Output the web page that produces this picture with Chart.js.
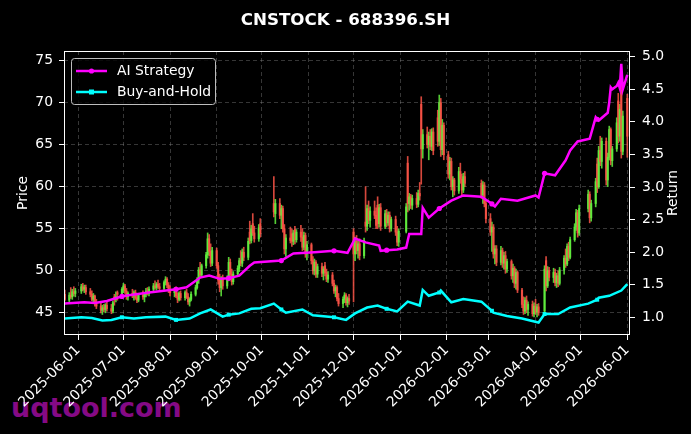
<!DOCTYPE html>
<html>
<head>
<meta charset="utf-8">
<title>CNSTOCK - 688396.SH</title>
<script src="https://cdn.jsdelivr.net/npm/chart.js@4.4.1/dist/chart.umd.min.js"></script>
<style>
  html, body { margin: 0; padding: 0; background: #000; }
  #wrap { position: relative; width: 691px; height: 434px; overflow: hidden; background: #000; }
  #title { position: absolute; left: 0; top: 9px; width: 691px; text-align: center; color: #fff;
           font: bold 16.7px "DejaVu Sans"; z-index: 2; }
  #mark { position: absolute; left: 11px; top: 392px; color: #850a85;
          font: bold 27px "DejaVu Sans"; z-index: 0; }
  canvas { position: absolute; left: 0; top: 0; z-index: 1; }
</style>
</head>
<body>
<div id="wrap">
  <div id="mark">uqtool.com</div>
  <canvas id="chart" width="691" height="434"></canvas>
  <div id="title">CNSTOCK - 688396.SH</div>
</div>
<script>
// trading calendar
const startDate = "2025-05-23";
const endDate = "2026-06-01";
const holidays = [
  "2025-06-02", "2025-10-01", "2025-10-02", "2025-10-03", "2025-10-06", "2025-10-07", "2025-10-08",
  "2026-01-01", "2026-01-02", "2026-02-16", "2026-02-17", "2026-02-18", "2026-02-19", "2026-02-20",
  "2026-02-23", "2026-04-06", "2026-05-01", "2026-05-04", "2026-05-05",
];

// daily candles, one line per week
const opens = [
  47.2, 46.5, 47.1, 46.9, 47.5, 47.3,
  47.6, 48.1, 47.8, 48.0,
  47.5, 47.2, 46.6, 47.0, 46.1,
  45.8, 45.3, 45.6, 45.4, 45.9,
  45.5, 45.2, 46.9, 46.6, 47.4,
  47.2, 47.8, 48.2, 47.6, 46.9,
  47.3, 47.0, 47.4, 46.8, 46.5,
  47.1, 46.9, 47.2, 47.6, 47.3,
  47.8, 48.2, 48.0, 48.4, 48.1,
  47.9, 48.6, 49.0, 48.3, 47.7,
  47.4, 47.7, 47.0, 46.6, 47.3,
  46.8, 47.4, 46.9, 46.3, 46.6,
  47.2, 48.0, 48.9, 50.1, 49.5,
  50.6, 51.9, 53.8, 52.3, 50.9,
  52.4, 50.6, 48.9, 48.0, 49.0,
  48.2, 49.1, 51.0, 49.6, 48.7,
  49.6, 50.3, 51.2, 50.9, 52.2,
  51.6, 54.6, 53.6, 55.6, 54.5,
  53.8, 55.6, 58.0, 56.8,
  58.0, 56.6, 57.4, 55.0, 52.6,
  53.9, 54.4, 53.5, 54.9, 53.7,
  54.6, 54.0, 52.8, 54.2, 52.0,
  53.1, 51.2, 50.0, 51.0, 49.6,
  50.5, 49.7, 50.6, 49.8, 49.0,
  49.5, 48.5, 47.6, 48.0, 46.7,
  46.1, 46.6, 47.1, 46.2, 46.7,
  54.6, 52.0, 53.5, 52.4, 53.2,
  51.8, 55.8, 55.3, 57.4, 56.0,
  57.1, 56.6, 57.8, 55.6, 57.5,
  55.3, 56.8, 55.7, 56.6, 55.0,
  56.1, 54.6, 53.4,
  54.7, 62.8, 58.0, 58.8, 57.8,
  58.6, 57.9, 59.2, 69.8, 64.5,
  66.2, 65.0, 66.0, 64.8, 66.5,
  68.2, 65.4, 70.0, 64.4, 67.3,
  63.8, 61.5, 63.0, 60.0, 60.8,
  59.5, 61.8, 60.9, 59.6, 61.2,
  60.4, 59.0, 60.2, 58.0,
  56.2, 54.6, 55.2, 52.0, 52.6,
  51.0, 52.4, 50.9, 51.8, 50.2,
  51.1, 49.4, 50.3, 48.5, 49.8,
  47.7, 46.0, 45.2, 46.5, 45.4,
  46.0, 44.9, 45.8, 45.1, 45.7,
  45.2, 51.2, 48.2, 50.0,
  49.2, 49.8, 48.6, 49.4, 48.5,
  50.1, 51.5, 50.8, 52.9, 51.6,
  53.7, 55.2, 56.9, 54.5,
  57.4, 59.1, 56.3,
  58.0, 62.7, 60.0, 64.3, 63.0,
  65.4, 60.8, 63.5, 66.8, 63.1,
  64.5, 70.2, 66.0, 71.5, 64.2, 70.5,
];
const highs = [
  47.7, 47.4, 48.0, 47.8, 48.1, 47.9,
  48.4, 48.5, 48.3, 48.3,
  47.9, 47.6, 47.3, 47.1, 46.6,
  46.2, 45.9, 46.0, 46.1, 46.3,
  46.0, 46.4, 47.2, 47.5, 47.6,
  48.0, 48.5, 48.4, 47.9, 47.5,
  47.8, 47.6, 47.7, 47.2, 47.3,
  47.6, 47.4, 47.9, 48.0, 48.1,
  48.5, 48.8, 48.6, 48.9, 48.5,
  48.8, 49.3, 49.2, 48.6, 48.2,
  48.0, 48.1, 47.4, 47.5, 47.6,
  47.6, 47.8, 47.3, 46.8, 47.5,
  48.3, 49.2, 50.4, 51.0, 50.8,
  52.2, 54.5, 54.3, 53.2, 52.8,
  52.7, 51.0, 49.6, 49.3, 49.5,
  49.4, 51.6, 51.4, 50.2, 49.9,
  50.6, 51.5, 52.4, 52.6, 52.8,
  53.9, 55.9, 55.4, 56.8, 55.3,
  55.5, 56.2, 61.2, 58.5,
  58.6, 57.8, 57.7, 55.5, 54.3,
  55.2, 55.0, 54.8, 55.3, 54.9,
  55.4, 55.0, 54.6, 54.5, 53.5,
  53.3, 51.7, 51.4, 51.2, 50.8,
  50.9, 50.5, 51.0, 50.2, 49.9,
  49.8, 48.9, 48.3, 48.2, 47.3,
  46.9, 47.4, 47.3, 46.9, 47.2,
  55.0, 54.0, 54.2, 53.6, 53.8,
  53.9, 60.0, 57.8, 58.3, 57.6,
  58.3, 57.5, 58.8, 57.9, 58.0,
  57.2, 57.3, 57.0, 57.0, 56.4,
  56.5, 55.3, 55.0,
  58.0, 63.6, 59.2, 59.1, 59.0,
  59.3, 59.6, 60.5, 70.7, 66.8,
  67.1, 66.5, 66.8, 66.9, 67.0,
  69.1, 70.9, 70.5, 68.0, 67.6,
  64.2, 63.5, 63.4, 61.2, 61.0,
  62.3, 62.8, 61.5, 61.6, 61.8,
  60.8, 60.6, 60.5, 58.4,
  56.8, 55.8, 55.5, 53.0, 53.0,
  52.9, 52.7, 52.2, 52.3, 51.4,
  51.3, 50.8, 50.5, 50.2, 50.0,
  47.9, 46.9, 46.8, 47.0, 46.3,
  46.4, 46.2, 46.6, 46.0, 46.1,
  50.6, 51.7, 50.5, 50.4,
  50.3, 50.2, 49.7, 50.0, 50.4,
  51.8, 52.6, 53.2, 53.4, 54.0,
  55.6, 57.3, 57.2, 57.8,
  59.6, 59.4, 58.4,
  61.0, 63.4, 64.8, 66.0, 65.8,
  65.8, 64.0, 67.2, 67.0, 64.8,
  68.2, 71.1, 69.8, 72.3, 69.0, 71.0,
];
const lows = [
  46.4, 46.2, 46.7, 46.6, 47.0, 46.9,
  47.3, 47.6, 47.4, 47.2,
  46.9, 46.4, 46.2, 45.8, 45.5,
  45.0, 44.8, 45.1, 45.0, 45.2,
  44.9, 45.0, 45.9, 46.3, 46.5,
  46.9, 47.4, 47.3, 46.6, 46.5,
  46.8, 46.5, 46.6, 46.2, 46.3,
  46.6, 46.3, 46.9, 47.1, 47.0,
  47.5, 47.8, 47.7, 47.9, 47.6,
  47.7, 48.3, 48.0, 47.4, 47.0,
  46.9, 46.8, 46.2, 46.4, 46.5,
  46.5, 46.7, 46.0, 45.8, 46.4,
  47.0, 47.8, 48.5, 49.2, 49.3,
  50.3, 51.5, 51.8, 50.5, 50.6,
  50.3, 48.4, 47.5, 47.0, 47.8,
  47.9, 48.8, 49.2, 48.3, 48.4,
  49.3, 49.9, 50.6, 50.5, 51.2,
  51.3, 53.2, 53.3, 54.2, 53.4,
  53.5, 54.0, 56.4, 55.6,
  56.2, 55.0, 54.6, 52.0, 51.7,
  53.3, 52.9, 53.1, 53.2, 53.4,
  53.5, 52.4, 52.5, 51.6, 51.3,
  50.8, 49.6, 49.5, 49.2, 49.2,
  49.3, 48.9, 49.4, 48.7, 48.6,
  48.2, 47.3, 46.9, 46.4, 45.8,
  45.6, 46.2, 45.9, 45.7, 46.0,
  46.3, 51.2, 52.0, 51.5, 51.3,
  51.5, 54.6, 54.8, 55.6, 55.2,
  56.2, 55.0, 55.0, 55.2, 54.8,
  55.0, 55.2, 55.4, 54.6, 54.7,
  54.2, 53.0, 52.9,
  54.5, 57.0, 57.2, 57.4, 57.3,
  57.5, 57.6, 58.4, 60.3, 63.4,
  64.6, 63.2, 64.4, 64.3, 63.8,
  64.8, 64.9, 63.6, 63.8, 63.2,
  61.0, 60.8, 59.6, 58.8, 59.0,
  59.2, 60.4, 59.0, 59.3, 60.0,
  58.6, 58.0, 57.6, 55.7,
  54.2, 52.3, 51.5, 50.8, 50.6,
  50.7, 50.4, 50.2, 49.7, 49.8,
  49.0, 48.6, 48.0, 47.8, 47.4,
  45.6, 44.8, 44.9, 45.0, 44.7,
  44.6, 44.5, 44.8, 44.5, 44.7,
  45.0, 47.6, 48.0, 48.8,
  48.6, 48.2, 48.0, 48.1, 48.3,
  49.6, 50.4, 50.6, 51.2, 51.4,
  53.5, 54.8, 54.0, 54.2,
  57.0, 55.7, 55.9,
  57.6, 59.3, 59.8, 62.5, 62.2,
  60.2, 60.0, 63.2, 62.6, 62.4,
  64.2, 65.2, 65.4, 63.4, 63.8, 63.5,
];
const closes = [
  46.6, 47.1, 46.9, 47.5, 47.3, 47.6,
  48.1, 47.8, 48.0, 47.5,
  47.2, 46.6, 47.0, 46.1, 45.8,
  45.3, 45.6, 45.4, 45.9, 45.5,
  45.2, 46.2, 46.6, 46.9, 47.2,
  47.8, 48.2, 47.6, 46.9, 47.3,
  47.0, 47.4, 46.8, 46.5, 47.1,
  46.9, 47.2, 47.6, 47.3, 47.8,
  48.2, 48.0, 48.4, 48.1, 47.9,
  48.6, 49.0, 48.3, 47.7, 47.4,
  47.7, 47.0, 46.6, 47.3, 46.8,
  47.4, 46.9, 46.3, 46.6, 47.2,
  48.0, 48.9, 50.1, 49.5, 50.6,
  51.9, 53.8, 52.3, 50.9, 52.4,
  50.6, 48.9, 48.0, 49.0, 48.2,
  49.1, 51.0, 49.6, 48.7, 49.6,
  50.3, 51.2, 50.9, 52.2, 51.6,
  53.5, 53.6, 55.0, 54.5, 53.8,
  55.1, 54.4, 57.0, 58.0,
  56.6, 57.4, 55.0, 52.6, 53.9,
  53.6, 53.5, 54.5, 53.7, 54.6,
  54.0, 52.8, 54.2, 52.0, 53.1,
  51.2, 50.0, 51.0, 49.6, 50.5,
  49.7, 50.2, 49.8, 49.0, 49.5,
  48.5, 47.6, 48.0, 46.7, 46.1,
  46.6, 47.1, 46.2, 46.7, 46.4,
  52.0, 53.5, 52.4, 53.2, 51.8,
  53.6, 55.3, 57.4, 56.0, 57.1,
  56.6, 55.4, 55.6, 57.5, 55.3,
  56.8, 55.7, 56.6, 55.0, 56.1,
  54.6, 53.4, 54.7,
  57.6, 58.0, 58.8, 57.8, 58.6,
  57.9, 59.2, 58.9, 64.5, 66.2,
  65.0, 66.0, 64.8, 66.5, 64.3,
  65.4, 70.0, 64.4, 67.3, 63.8,
  61.5, 63.0, 60.0, 60.8, 59.5,
  61.8, 60.9, 59.6, 61.2, 60.4,
  59.0, 60.2, 58.0, 56.2,
  54.6, 55.2, 52.0, 52.6, 51.0,
  52.4, 50.9, 51.8, 50.2, 51.1,
  49.4, 50.3, 48.5, 49.8, 47.7,
  46.0, 45.2, 46.5, 45.4, 46.0,
  44.9, 45.8, 45.1, 45.7, 45.0,
  50.2, 48.2, 50.0, 49.2,
  49.8, 48.6, 49.4, 48.5, 50.1,
  51.5, 50.8, 52.9, 51.6, 53.7,
  55.2, 56.9, 54.5, 57.4,
  59.1, 56.3, 58.0,
  60.6, 60.0, 64.3, 63.0, 65.4,
  60.8, 63.5, 66.8, 63.1, 64.5,
  67.6, 66.0, 69.2, 64.2, 68.4, 66.0,
];

// strategy curves (right axis)
const aiDates = [
  "2025-05-23", "2025-06-05", "2025-06-12", "2025-06-20", "2025-06-27", "2025-06-30", "2025-07-02",
  "2025-07-18", "2025-08-01", "2025-08-05", "2025-08-12", "2025-08-21", "2025-08-27", "2025-09-03",
  "2025-09-09", "2025-09-16", "2025-09-23", "2025-09-26", "2025-10-14", "2025-10-22", "2025-11-05",
  "2025-11-18", "2025-11-27", "2025-12-02", "2025-12-09", "2025-12-18", "2025-12-19", "2025-12-23",
  "2025-12-30", "2026-01-05", "2026-01-07", "2026-01-15", "2026-01-16", "2026-01-20", "2026-01-27",
  "2026-02-04", "2026-02-12", "2026-02-24", "2026-03-02", "2026-03-03", "2026-03-05", "2026-03-09",
  "2026-03-20", "2026-04-01", "2026-04-03", "2026-04-07", "2026-04-14", "2026-04-21", "2026-04-24",
  "2026-04-29", "2026-05-07", "2026-05-11", "2026-05-12", "2026-05-13", "2026-05-19", "2026-05-20",
  "2026-05-21", "2026-05-22", "2026-05-25", "2026-05-26", "2026-05-27", "2026-05-28", "2026-05-29",
  "2026-06-01",
];
const aiValues = [
  1.21, 1.23, 1.22, 1.25, 1.30, 1.32, 1.33,
  1.38, 1.42, 1.43, 1.46, 1.61, 1.64, 1.59,
  1.60, 1.64, 1.79, 1.84, 1.87, 1.98, 2.00,
  2.02, 1.99, 2.21, 2.15, 2.10, 2.02, 2.03,
  2.04, 2.07, 2.28, 2.28, 2.68, 2.53, 2.67,
  2.79, 2.87, 2.85, 2.76, 2.74, 2.70, 2.82,
  2.79, 2.87, 2.84, 3.21, 3.18, 3.41, 3.56,
  3.70, 3.74, 4.07, 4.04, 4.02, 4.14, 4.30,
  4.53, 4.50, 4.55, 4.60, 4.52, 4.89, 4.50,
  4.72,
];
const bhDates = [
  "2025-05-23", "2025-06-03", "2025-06-10", "2025-06-17", "2025-06-23", "2025-06-30", "2025-07-08",
  "2025-07-16", "2025-07-29", "2025-08-05", "2025-08-14", "2025-08-21", "2025-08-28", "2025-09-05",
  "2025-09-09", "2025-09-16", "2025-09-24", "2025-09-30", "2025-10-09", "2025-10-14", "2025-10-17",
  "2025-10-28", "2025-11-04", "2025-11-18", "2025-11-26", "2025-12-02", "2025-12-10", "2025-12-17",
  "2025-12-23", "2025-12-30", "2026-01-06", "2026-01-14", "2026-01-16", "2026-01-20", "2026-01-27",
  "2026-01-28", "2026-02-04", "2026-02-12", "2026-02-24", "2026-03-03", "2026-03-04", "2026-03-13",
  "2026-03-23", "2026-04-03", "2026-04-07", "2026-04-16", "2026-04-24", "2026-05-06", "2026-05-12",
  "2026-05-13", "2026-05-20", "2026-05-28", "2026-06-01",
];
const bhValues = [
  0.98, 1.00, 0.99, 0.95, 0.96, 1.00, 0.98,
  1.00, 1.01, 0.96, 0.98, 1.06, 1.12, 1.01,
  1.04, 1.06, 1.13, 1.14, 1.21, 1.12, 1.07,
  1.12, 1.03, 1.00, 0.96, 1.06, 1.15, 1.18,
  1.13, 1.09, 1.24, 1.18, 1.42, 1.33, 1.38,
  1.41, 1.23, 1.28, 1.24, 1.10, 1.07, 1.02,
  0.98, 0.92, 1.05, 1.05, 1.15, 1.21, 1.27,
  1.30, 1.33, 1.41, 1.51,
];
const markerDates = [
  "2025-06-30", "2025-08-05", "2025-09-09", "2025-10-14", "2025-11-18", "2025-12-23",
  "2026-01-27", "2026-03-03", "2026-04-07", "2026-05-12",
];

// axis ticks
const monthTicks = [
  "2025-06-01", "2025-07-01", "2025-08-01", "2025-09-01", "2025-10-01", "2025-11-01", "2025-12-01",
  "2026-01-01", "2026-02-01", "2026-03-01", "2026-04-01", "2026-05-01", "2026-06-01",
];
const priceTicks = [45, 50, 55, 60, 65, 70, 75];
const returnTicks = [1.0, 1.5, 2.0, 2.5, 3.0, 3.5, 4.0, 4.5, 5.0];

// days counted from 2025-06-01
const base = Date.UTC(2025, 5, 1);
const toDay = (s) => {
  const [y, m, d] = s.split("-").map(Number);
  return (Date.UTC(y, m - 1, d) - base) / 86400000;
};

const holidaySet = new Set(holidays.map(toDay));
const tradingDays = [];
for (let t = toDay(startDate); t <= toDay(endDate); t++) {
  const wd = new Date(base + t * 86400000).getUTCDay();
  if (wd === 0 || wd === 6 || holidaySet.has(t)) continue;
  tradingDays.push(t);
}

const up = "rgba(98, 240, 62, 0.85)";
const down = "rgba(250, 84, 70, 0.85)";
const candleColors = closes.map((c, i) => (c >= opens[i] ? up : down));
const markerSet = new Set(markerDates.map(toDay));

const font = { family: "DejaVu Sans", size: 13.9 };
const white = "#ffffff";
const gridColor = "rgba(150, 150, 150, 0.45)";

const frame = {
  id: "frame",
  afterDatasetsDraw(chart) {
    const { ctx, chartArea: a } = chart;
    ctx.save();
    ctx.strokeStyle = white;
    ctx.lineWidth = 1;
    ctx.strokeRect(a.left + 0.5, a.top + 0.5, a.width - 1, a.height - 1);

    // legend box, upper left
    ctx.fillStyle = "rgba(0, 0, 0, 0.8)";
    ctx.strokeStyle = "rgba(210, 210, 210, 0.9)";
    ctx.beginPath();
    ctx.roundRect(a.left + 7.5, a.top + 7.5, 144, 46, 3);
    ctx.fill();
    ctx.stroke();
    const items = chart.data.datasets.filter((d) => d.type === "line");
    items.forEach((d, i) => {
      const y = a.top + 20 + i * 21;
      const x0 = a.left + 12;
      ctx.strokeStyle = d.borderColor;
      ctx.lineWidth = 2.5;
      ctx.beginPath();
      ctx.moveTo(x0, y);
      ctx.lineTo(x0 + 31, y);
      ctx.stroke();
      ctx.fillStyle = d.borderColor;
      if (d.pointStyle === "rect") {
        ctx.fillRect(x0 + 13, y - 2.5, 5, 5);
      } else {
        ctx.beginPath();
        ctx.arc(x0 + 15.5, y, 2.6, 0, Math.PI * 2);
        ctx.fill();
      }
      ctx.fillStyle = white;
      ctx.font = "13.9px 'DejaVu Sans'";
      ctx.textAlign = "left";
      ctx.textBaseline = "middle";
      ctx.fillText(d.label, x0 + 41, y + 0.5);
    });

    // right axis title, reading upwards
    ctx.translate(673, (a.top + a.bottom) / 2);
    ctx.rotate(-Math.PI / 2);
    ctx.fillStyle = white;
    ctx.textAlign = "center";
    ctx.textBaseline = "middle";
    ctx.fillText("Return", 0, 0);
    ctx.restore();
  },
};

new Chart(document.getElementById("chart"), {
  type: "bar",
  data: {
    datasets: [
      {
        type: "line",
        label: "AI Strategy",
        data: aiDates.map((d, i) => ({ x: toDay(d), y: aiValues[i] })),
        yAxisID: "y2",
        borderColor: "#ff00ff",
        backgroundColor: "#ff00ff",
        borderWidth: 2.5,
        pointStyle: "circle",
        pointRadius: (c) => (c.raw && markerSet.has(c.raw.x) ? 2.6 : 0),
        pointBorderWidth: 0,
        tension: 0,
        order: 1,
      },
      {
        type: "line",
        label: "Buy-and-Hold",
        data: bhDates.map((d, i) => ({ x: toDay(d), y: bhValues[i] })),
        yAxisID: "y2",
        borderColor: "#00ffff",
        backgroundColor: "#00ffff",
        borderWidth: 2.5,
        pointStyle: "rect",
        pointRadius: (c) => (c.raw && markerSet.has(c.raw.x) ? 2.8 : 0),
        pointBorderWidth: 0,
        tension: 0,
        order: 2,
      },
      {
        label: "wick",
        data: tradingDays.map((x, i) => ({ x, y: [lows[i], highs[i]] })),
        yAxisID: "y",
        backgroundColor: candleColors,
        barThickness: 1,
        grouped: false,
        order: 4,
      },
      {
        label: "body",
        data: tradingDays.map((x, i) => ({
          x,
          y: [Math.min(opens[i], closes[i]), Math.max(opens[i], closes[i])],
        })),
        yAxisID: "y",
        backgroundColor: candleColors,
        barThickness: 1.5,
        minBarLength: 1,
        grouped: false,
        order: 3,
      },
    ],
  },
  options: {
    responsive: false,
    animation: false,
    devicePixelRatio: 1,
    layout: { padding: { top: 51, left: 0, right: 0, bottom: 0 } },
    plugins: {
      legend: { display: false },
      tooltip: { enabled: false },
      title: { display: false },
    },
    scales: {
      x: {
        type: "linear",
        min: -9.51,
        max: 366.8,
        offset: false,
        afterBuildTicks: (s) => {
          s.ticks = monthTicks.map((d) => ({ value: toDay(d) }));
        },
        afterFit: (s) => {
          s.height = 99;
        },
        ticks: {
          autoSkip: false,
          minRotation: 45,
          maxRotation: 45,
          color: white,
          font: font,
          padding: 2,
          callback: (v) => monthTicks.find((d) => toDay(d) === v),
        },
        grid: {
          color: gridColor,
          lineWidth: 0.8,
          offset: false,
          tickColor: white,
          tickLength: 5,
          tickWidth: 1,
        },
        border: { display: false, dash: [4, 3] },
      },
      y: {
        position: "left",
        min: 42.36,
        max: 76.14,
        beginAtZero: false,
        afterBuildTicks: (s) => {
          s.ticks = priceTicks.map((v) => ({ value: v }));
        },
        afterFit: (s) => {
          s.width = 64;
        },
        ticks: { color: white, font: font, padding: 6 },
        grid: { color: gridColor, lineWidth: 0.8, tickColor: white, tickLength: 5, tickWidth: 1 },
        border: { display: false, dash: [4, 3] },
        title: { display: true, text: "Price", color: white, font: font, padding: { top: 15, bottom: 0 } },
      },
      y2: {
        position: "right",
        min: 0.728,
        max: 5.088,
        beginAtZero: false,
        afterBuildTicks: (s) => {
          s.ticks = returnTicks.map((v) => ({ value: v }));
        },
        afterFit: (s) => {
          s.width = 61;
        },
        ticks: { color: white, font: font, padding: 7, callback: (v) => v.toFixed(1) },
        grid: { drawOnChartArea: false, tickColor: white, tickLength: 5, tickWidth: 1 },
        border: { display: false },
      },
    },
  },
  plugins: [frame],
});
</script>
</body>
</html>
